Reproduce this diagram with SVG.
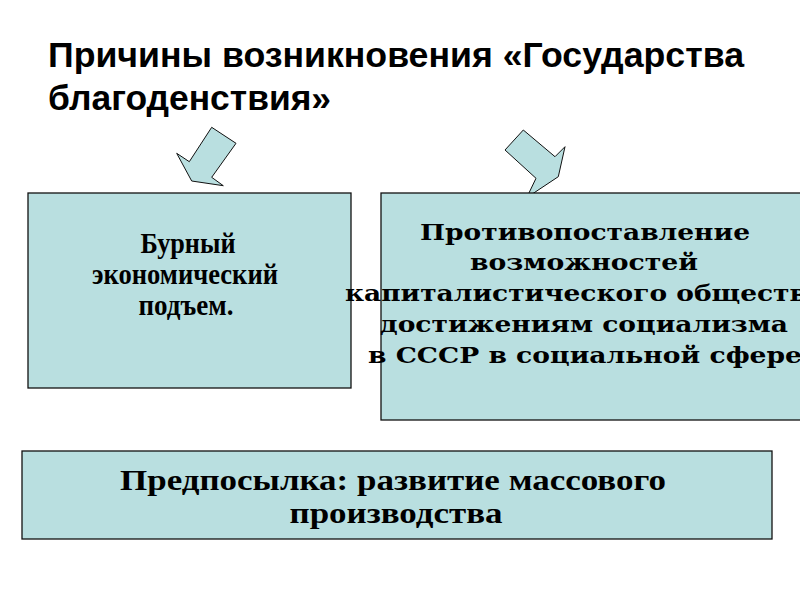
<svg xmlns="http://www.w3.org/2000/svg" width="800" height="600" viewBox="0 0 800 600">
<style>
.box{fill:#b9dfe0;stroke:#111;stroke-width:1.3}
.arrow{fill:#b9dfe0;stroke:#111;stroke-width:1}
.title{font-family:"Liberation Sans",Arial,sans-serif;font-weight:bold;font-size:35px;fill:#000}
.cond{font-family:"Liberation Serif","Times New Roman",serif;font-weight:bold;font-size:29px;fill:#000;text-anchor:middle}
.wide{font-family:"DejaVu Serif",serif;font-weight:bold;font-size:23px;fill:#000;text-anchor:middle}
</style>
<rect width="800" height="600" fill="#fff"/>
<g id="title">
<text class="title" x="48" y="67" textLength="696" lengthAdjust="spacingAndGlyphs">Причины возникновения «Государства</text>
<text class="title" x="48" y="110" textLength="283" lengthAdjust="spacingAndGlyphs">благоденствия»</text>
</g>
<g id="connectors">
<polygon class="arrow" points="211.7,127.3 236,143.3 211.7,177.3 223.3,185.7 191.7,181 176.7,153.3 189.3,161.7"/>
<polygon class="arrow" points="523.3,130 555,156.7 565,146.7 558.3,176.7 526.7,197.7 536,178.3 505,150"/>
</g>
<g id="node-left">
<rect class="box" x="28" y="193" width="323" height="195"/>
<text class="cond" x="188" y="253" textLength="95" lengthAdjust="spacingAndGlyphs">Бурный</text>
<text class="cond" x="185" y="284" textLength="186" lengthAdjust="spacingAndGlyphs">экономический</text>
<text class="cond" x="186" y="315" textLength="95" lengthAdjust="spacingAndGlyphs">подъем.</text>
</g>
<g id="node-right">
<rect class="box" x="381" y="193" width="440" height="227"/>
<text class="wide" x="585" y="240" textLength="330" lengthAdjust="spacingAndGlyphs">Противопоставление</text>
<text class="wide" x="584" y="270" textLength="228" lengthAdjust="spacingAndGlyphs">возможностей</text>
<text class="wide" x="585" y="301" textLength="480" lengthAdjust="spacingAndGlyphs">капиталистического общества</text>
<text class="wide" x="584" y="332" textLength="408" lengthAdjust="spacingAndGlyphs">достижениям социализма</text>
<text class="wide" x="585" y="363" textLength="434" lengthAdjust="spacingAndGlyphs">в СССР в социальной сфере</text>
</g>
<g id="node-bottom">
<rect class="box" x="22" y="451" width="750" height="88"/>
<text class="cond" x="393" y="490" textLength="546" lengthAdjust="spacingAndGlyphs">Предпосылка: развитие массового</text>
<text class="cond" x="396" y="523" textLength="213" lengthAdjust="spacingAndGlyphs">производства</text>
</g>
</svg>
